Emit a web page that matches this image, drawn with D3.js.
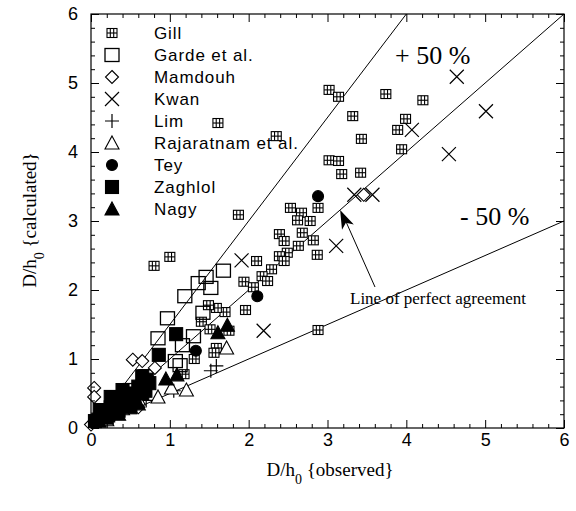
<!DOCTYPE html>
<html>
<head>
<meta charset="utf-8">
<script src="https://cdn.jsdelivr.net/npm/d3@7"></script>
<style>
  body { margin: 0; background: #fff; }
  svg { display: block; }
</style>
</head>
<body>
<svg id="chart" width="576" height="511"></svg>
<script>
// Observed vs calculated D/h0, one array per data source
const gill = [[0.80,2.35],[1.00,2.48],[1.61,4.42],[2.35,4.23],[1.87,3.09],[3.02,4.90],[3.14,4.80],
  [3.74,4.84],[4.21,4.75],[3.32,4.52],[3.99,4.48],[3.89,4.32],[3.43,4.19],[3.94,4.04],[3.02,3.88],
  [3.14,3.87],[3.18,3.68],[3.42,3.70],[2.53,3.19],[2.67,3.12],[2.88,3.19],[2.62,3.01],[2.78,3.00],
  [2.39,2.81],[2.45,2.71],[2.68,2.83],[2.82,2.72],[2.63,2.64],[2.49,2.54],[2.39,2.49],[2.45,2.42],
  [2.87,2.51],[2.10,2.42],[2.29,2.30],[2.17,2.20],[2.24,2.13],[1.94,2.12],[2.06,2.04],[1.96,1.71],
  [1.70,1.68],[1.59,1.74],[1.49,1.78],[1.40,1.54],[1.51,1.43],[1.75,1.41],[2.88,1.42],[1.59,1.16],
  [1.56,1.09],[1.31,1.00],[1.18,0.78],[0.55,0.50],[0.40,0.30],[0.25,0.20],[0.70,0.55],[0.15,0.10]];
const garde = [[1.68,2.28],[1.46,2.19],[1.36,2.10],[1.52,2.03],[1.19,1.91],[0.97,1.59],[1.42,1.67],
  [1.30,1.33],[0.85,1.30],[1.16,1.20],[1.07,0.97],[1.13,0.91],[0.70,0.75],[0.50,0.55],[0.30,0.32],
  [0.20,0.22],[0.10,0.12]];
const mamdouh = [[3.46,3.38],[0.53,0.99],[0.65,0.97],[0.81,0.87],[0.04,0.58],[0.04,0.45],[0.00,0.05],
  [0.15,0.22],[0.30,0.38],[0.45,0.52],[0.10,0.12],[0.60,0.30],[0.25,0.15]];
const kwan = [[4.64,5.09],[5.01,4.59],[4.07,4.32],[4.54,3.97],[3.34,3.38],[3.57,3.38],[3.11,2.64],
  [1.91,2.43],[2.19,1.41]];
const lim = [[1.59,0.90],[1.52,0.83],[1.05,0.54],[0.30,0.18],[0.50,0.32],[0.70,0.40]];
const rajaratnam = [[1.72,1.16],[1.21,0.55],[1.02,0.58],[0.40,0.28],[0.60,0.42],[0.20,0.12],[0.85,0.45]];
const tey = [[2.88,3.36],[2.11,1.91],[1.33,1.12],[0.35,0.33],[0.55,0.40]];
const zaghlol = [[1.08,1.36],[0.86,1.06],[0.65,0.75],[0.74,0.65],[0.69,0.54],[0.11,0.26],[0.15,0.20],
  [0.25,0.30],[0.30,0.40],[0.40,0.35],[0.45,0.50],[0.55,0.45],[0.60,0.60],[0.35,0.25],[0.20,0.15],
  [0.05,0.10],[0.50,0.30],[0.65,0.50],[0.70,0.70],[0.40,0.55],[0.25,0.45]];
const nagy = [[1.73,1.49],[1.61,1.38],[1.09,0.77],[0.95,0.71],[0.30,0.35],[0.40,0.45],[0.20,0.25],
  [0.50,0.40],[0.10,0.10],[0.35,0.20],[0.60,0.35]];

const seriesNames = ["Gill", "Garde et al.", "Mamdouh", "Kwan", "Lim", "Rajaratnam et al.", "Tey", "Zaghlol", "Nagy"];
const seriesData = [gill, garde, mamdouh, kwan, lim, rajaratnam, tey, zaghlol, nagy];
const seriesMarks = ["grid", "square", "diamond", "cross", "plus", "triangle", "circle", "squareFill", "triangleFill"];

// reference lines: slope of +50 %, perfect agreement, -50 %
const lineSlopes = [1.5, 1.0, 0.5];

const svg = d3.select("#chart");
const x = d3.scaleLinear().domain([0, 6]).range([91, 564]);
const y = d3.scaleLinear().domain([0, 6]).range([428, 14]);

// draw one marker centred on (cx, cy)
function drawMark(g, kind, cx, cy) {
  const s = g.append("g").attr("transform", `translate(${cx},${cy})`)
    .attr("stroke", "#000").attr("fill", "none").attr("stroke-width", 1.1);
  if (kind === "grid") {
    s.append("rect").attr("x", -5).attr("y", -4.5).attr("width", 10).attr("height", 9).attr("fill", "#fff");
    s.append("line").attr("x1", -1.7).attr("x2", -1.7).attr("y1", -4.5).attr("y2", 4.5);
    s.append("line").attr("x1", 1.7).attr("x2", 1.7).attr("y1", -4.5).attr("y2", 4.5);
    s.append("line").attr("x1", -5).attr("x2", 5).attr("y1", 0).attr("y2", 0);
  } else if (kind === "square") {
    s.append("rect").attr("x", -7).attr("y", -6.5).attr("width", 14).attr("height", 13).attr("stroke-width", 1.3);
  } else if (kind === "squareFill") {
    s.append("rect").attr("x", -6.5).attr("y", -6.5).attr("width", 13).attr("height", 13).attr("fill", "#000");
  } else if (kind === "diamond") {
    s.append("path").attr("d", "M0,-6.5L6.5,0L0,6.5L-6.5,0Z").attr("fill", "#fff");
  } else if (kind === "cross") {
    s.append("path").attr("d", "M-7,-7L7,7M-7,7L7,-7").attr("stroke-width", 1.2);
  } else if (kind === "plus") {
    s.append("path").attr("d", "M-7,0L7,0M0,-7L0,7").attr("stroke-width", 1.2);
  } else if (kind === "triangle") {
    s.append("path").attr("d", "M0,-7L7,6L-7,6Z").attr("fill", "#fff");
  } else if (kind === "triangleFill") {
    s.append("path").attr("d", "M0,-7L7,6L-7,6Z").attr("fill", "#000");
  } else if (kind === "circle") {
    s.append("circle").attr("r", 5.5).attr("fill", "#000");
  }
}

// reference lines clipped to the frame
svg.append("clipPath").attr("id", "plotClip").append("rect")
  .attr("x", 91).attr("y", 14).attr("width", 473).attr("height", 414);
const lines = svg.append("g").attr("clip-path", "url(#plotClip)");
lineSlopes.forEach(k => {
  const x2 = Math.min(6, 6 / k);
  lines.append("line")
    .attr("x1", x(0)).attr("y1", y(0))
    .attr("x2", x(x2)).attr("y2", y(k * x2))
    .attr("stroke", "#000").attr("stroke-width", 1);
});

// data points
const pts = svg.append("g");
seriesData.forEach((data, i) => {
  data.forEach(d => drawMark(pts, seriesMarks[i], x(d[0]), y(d[1])));
});

// frame and ticks (ticks point inward)
const majors = d3.range(0, 7, 1);
const minors = d3.range(0, 6.01, 0.2).filter(v => Math.abs(v - Math.round(v)) > 0.01);
function tickAxis(gen, transform, values, size, labels, pad) {
  const g = svg.append("g").attr("transform", transform)
    .call(gen.tickValues(values).tickSize(-size).tickPadding(pad)
      .tickFormat(labels ? d3.format("d") : ""));
  g.select(".domain").remove();
  g.selectAll("line").attr("stroke", "#000").attr("stroke-width", 1);
  g.selectAll("text").attr("font-family", "Arial, 'Liberation Sans', sans-serif")
    .attr("font-size", 18).attr("fill", "#000");
  return g;
}
tickAxis(d3.axisBottom(x), "translate(0,428)", majors, 8, true, 5);
tickAxis(d3.axisBottom(x), "translate(0,428)", minors, 4, false, 5);
tickAxis(d3.axisTop(x), "translate(0,14)", majors, 8, false, 5);
tickAxis(d3.axisTop(x), "translate(0,14)", minors, 4, false, 5);
tickAxis(d3.axisLeft(y), "translate(91,0)", majors, 8, true, 13);
tickAxis(d3.axisLeft(y), "translate(91,0)", minors, 4, false, 13);
tickAxis(d3.axisRight(y), "translate(564,0)", majors, 8, false, 5);
tickAxis(d3.axisRight(y), "translate(564,0)", minors, 4, false, 5);
svg.append("rect").attr("x", 91).attr("y", 14).attr("width", 473).attr("height", 414)
  .attr("fill", "none").attr("stroke", "#000").attr("stroke-width", 1.2);

// legend
const legend = svg.append("g");
seriesNames.forEach((name, i) => {
  const ly = 33 + i * 22;
  drawMark(legend, seriesMarks[i], 112, ly);
  legend.append("text").attr("x", 154).attr("y", ly + 6)
    .attr("font-family", "Arial, 'Liberation Sans', sans-serif").attr("font-size", 17)
    .attr("letter-spacing", 0.9)
    .text(name);
});

// annotations
const serif = "'Times New Roman', 'Liberation Serif', serif";
svg.append("text").attr("x", 395).attr("y", 64).attr("font-family", serif).attr("font-size", 26).text("+ 50 %");
svg.append("text").attr("x", 460).attr("y", 225).attr("font-family", serif).attr("font-size", 26).text("- 50 %");
svg.append("text").attr("x", 350).attr("y", 304).attr("font-family", serif).attr("font-size", 17)
  .text("Line of perfect agreement");

// arrow to the y = x line
const tip = [x(3.16), y(3.16)];
const tail = [375, 287];
svg.append("line").attr("x1", tail[0]).attr("y1", tail[1]).attr("x2", tip[0] + 6).attr("y2", tip[1] + 12)
  .attr("stroke", "#000").attr("stroke-width", 1);
const ang = Math.atan2(tail[1] - tip[1], tail[0] - tip[0]);
const hl = 20, hw = 0.33;
const p1 = [tip[0] + hl * Math.cos(ang - hw), tip[1] + hl * Math.sin(ang - hw)];
const p2 = [tip[0] + hl * 0.7 * Math.cos(ang), tip[1] + hl * 0.7 * Math.sin(ang)];
const p3 = [tip[0] + hl * Math.cos(ang + hw), tip[1] + hl * Math.sin(ang + hw)];
svg.append("path").attr("d", `M${tip}L${p1}L${p2}L${p3}Z`).attr("fill", "#000");

// axis titles with subscript 0
const xt = svg.append("text").attr("x", 330).attr("y", 476).attr("text-anchor", "middle")
  .attr("font-family", serif).attr("font-size", 19);
xt.append("tspan").text("D/h");
xt.append("tspan").attr("dy", 8).attr("font-size", 14).text("0");
xt.append("tspan").attr("dy", -8).text(" {observed}");

const yt = svg.append("text").attr("transform", "translate(36,220) rotate(-90)").attr("text-anchor", "middle")
  .attr("font-family", serif).attr("font-size", 19);
yt.append("tspan").text("D/h");
yt.append("tspan").attr("dy", 8).attr("font-size", 14).text("0");
yt.append("tspan").attr("dy", -8).text(" {calculated}");
</script>
</body>
</html>
